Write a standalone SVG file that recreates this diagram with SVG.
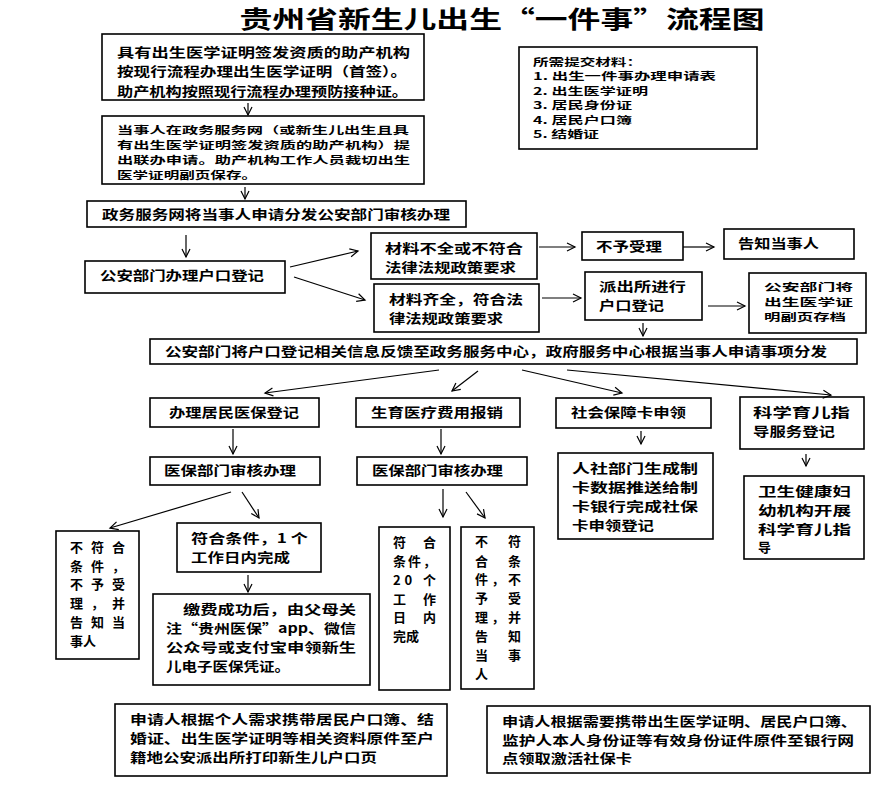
<svg xmlns="http://www.w3.org/2000/svg" width="889" height="789" viewBox="0 0 889 789">
<style>
.b{fill:#fff;stroke:#000;stroke-width:1.6}
.t{font-family:"Noto Sans CJK SC","Liberation Sans",sans-serif;font-size:13px;font-weight:bold;fill:#000}
.m{font-size:10px}
.c line{stroke:#000;stroke-width:1.2;marker-end:url(#a)}
</style>
<defs><marker id="a" markerUnits="userSpaceOnUse" markerWidth="12" markerHeight="12" refX="9" refY="5" orient="auto"><path d="M1,1 L9,5 L1,9" fill="none" stroke="#000" stroke-width="1.2"/></marker></defs>
<rect width="889" height="789" fill="#fff"/>
<text x="502" y="28" text-anchor="middle" font-family="Noto Sans CJK SC, sans-serif" font-size="24" font-weight="bold" textLength="525" lengthAdjust="spacingAndGlyphs">贵州省新生儿出生“一件事”流程图</text>

<g id="n1"><rect class="b" x="102" y="34" width="322" height="66"/>
<text class="t" x="117" y="57" textLength="293" lengthAdjust="spacingAndGlyphs">具有出生医学证明签发资质的助产机构</text>
<text class="t" x="117" y="76" textLength="290" lengthAdjust="spacingAndGlyphs">按现行流程办理出生医学证明（首签）。</text>
<text class="t" x="117" y="96" textLength="291" lengthAdjust="spacingAndGlyphs">助产机构按照现行流程办理预防接种证。</text></g>

<g id="n2"><rect class="b" x="102" y="116" width="322" height="68"/>
<text class="t m" x="117" y="134" textLength="292" lengthAdjust="spacingAndGlyphs">当事人在政务服务网（或新生儿出生且具</text>
<text class="t m" x="117" y="149" textLength="293" lengthAdjust="spacingAndGlyphs">有出生医学证明签发资质的助产机构）提</text>
<text class="t m" x="117" y="164" textLength="293" lengthAdjust="spacingAndGlyphs">出联办申请。助产机构工作人员裁切出生</text>
<text class="t m" x="117" y="179" textLength="140" lengthAdjust="spacingAndGlyphs">医学证明副页保存。</text></g>

<g id="n3"><rect class="b" x="87" y="201" width="379" height="26"/>
<text class="t" x="102" y="219" textLength="348" lengthAdjust="spacingAndGlyphs">政务服务网将当事人申请分发公安部门审核办理</text></g>

<g id="n4"><rect class="b" x="85" y="261" width="200" height="32"/>
<text class="t" x="100" y="280" textLength="164" lengthAdjust="spacingAndGlyphs">公安部门办理户口登记</text></g>

<g id="n5"><rect class="b" x="371" y="233" width="166" height="46"/>
<text class="t" x="385" y="253" textLength="138" lengthAdjust="spacingAndGlyphs">材料不全或不符合</text>
<text class="t" x="385" y="272" textLength="131" lengthAdjust="spacingAndGlyphs">法律法规政策要求</text></g>

<g id="n6"><rect class="b" x="374" y="284" width="165" height="48"/>
<text class="t" x="389" y="304" textLength="134" lengthAdjust="spacingAndGlyphs">材料齐全，符合法</text>
<text class="t" x="389" y="323" textLength="114" lengthAdjust="spacingAndGlyphs">律法规政策要求</text></g>

<g id="n7"><rect class="b" x="582" y="232" width="101" height="28"/>
<text class="t" x="596" y="251" textLength="66" lengthAdjust="spacingAndGlyphs">不予受理</text></g>

<g id="n8"><rect class="b" x="724" y="229" width="130" height="30"/>
<text class="t" x="738" y="248" textLength="81" lengthAdjust="spacingAndGlyphs">告知当事人</text></g>

<g id="n9"><rect class="b" x="585" y="272" width="117" height="48"/>
<text class="t" x="599" y="291" textLength="87" lengthAdjust="spacingAndGlyphs">派出所进行</text>
<text class="t" x="599" y="310" textLength="65" lengthAdjust="spacingAndGlyphs">户口登记</text></g>

<g id="n10"><rect class="b" x="749" y="273" width="117" height="60"/>
<text class="t m" x="764" y="291" textLength="89" lengthAdjust="spacingAndGlyphs">公安部门将</text>
<text class="t m" x="764" y="306" textLength="89" lengthAdjust="spacingAndGlyphs">出生医学证</text>
<text class="t m" x="764" y="321" textLength="82" lengthAdjust="spacingAndGlyphs">明副页存档</text></g>

<g id="n11"><rect class="b" x="519" y="47" width="238" height="102"/>
<text class="t m" x="533" y="66" textLength="109" lengthAdjust="spacingAndGlyphs">所需提交材料：</text>
<text class="t m" x="533" y="80" textLength="183" lengthAdjust="spacingAndGlyphs">1. 出生一件事办理申请表</text>
<text class="t m" x="533" y="95" textLength="115" lengthAdjust="spacingAndGlyphs">2. 出生医学证明</text>
<text class="t m" x="533" y="109" textLength="99" lengthAdjust="spacingAndGlyphs">3. 居民身份证</text>
<text class="t m" x="533" y="124" textLength="99" lengthAdjust="spacingAndGlyphs">4. 居民户口簿</text>
<text class="t m" x="533" y="138" textLength="66" lengthAdjust="spacingAndGlyphs">5. 结婚证</text></g>

<g id="n12"><rect class="b" x="150" y="339" width="707" height="25"/>
<text class="t" x="165" y="356" textLength="662" lengthAdjust="spacingAndGlyphs">公安部门将户口登记相关信息反馈至政务服务中心，政府服务中心根据当事人申请事项分发</text></g>

<g id="n13"><rect class="b" x="150" y="398" width="169" height="29"/>
<text class="t" x="169" y="417" textLength="130" lengthAdjust="spacingAndGlyphs">办理居民医保登记</text></g>
<g id="n14"><rect class="b" x="356" y="398" width="164" height="29"/>
<text class="t" x="371" y="417" textLength="132" lengthAdjust="spacingAndGlyphs">生育医疗费用报销</text></g>
<g id="n15"><rect class="b" x="556" y="398" width="155" height="30"/>
<text class="t" x="571" y="417" textLength="115" lengthAdjust="spacingAndGlyphs">社会保障卡申领</text></g>
<g id="n16"><rect class="b" x="740" y="397" width="124" height="52"/>
<text class="t" x="753" y="417" textLength="97" lengthAdjust="spacingAndGlyphs">科学育儿指</text>
<text class="t" x="753" y="436" textLength="82" lengthAdjust="spacingAndGlyphs">导服务登记</text></g>

<g id="n17"><rect class="b" x="150" y="457" width="170" height="28"/>
<text class="t" x="164" y="475" textLength="132" lengthAdjust="spacingAndGlyphs">医保部门审核办理</text></g>
<g id="n18"><rect class="b" x="357" y="457" width="170" height="28"/>
<text class="t" x="372" y="475" textLength="131" lengthAdjust="spacingAndGlyphs">医保部门审核办理</text></g>

<g id="n19"><rect class="b" x="558" y="453" width="155" height="86"/>
<text class="t" x="572" y="473" textLength="126" lengthAdjust="spacingAndGlyphs">人社部门生成制</text>
<text class="t" x="572" y="492" textLength="126" lengthAdjust="spacingAndGlyphs">卡数据推送给制</text>
<text class="t" x="572" y="511" textLength="126" lengthAdjust="spacingAndGlyphs">卡银行完成社保</text>
<text class="t" x="572" y="530" textLength="82" lengthAdjust="spacingAndGlyphs">卡申领登记</text></g>

<g id="n20"><rect class="b" x="744" y="476" width="120" height="83"/>
<text class="t" x="758" y="496" textLength="93" lengthAdjust="spacingAndGlyphs">卫生健康妇</text>
<text class="t" x="758" y="515" textLength="93" lengthAdjust="spacingAndGlyphs">幼机构开展</text>
<text class="t" x="758" y="534" textLength="93" lengthAdjust="spacingAndGlyphs">科学育儿指</text>
<text class="t" x="758" y="552">导</text></g>

<g id="n21"><rect class="b" x="56" y="531" width="83" height="128"/>
<text class="t" x="70" y="552" textLength="55" lengthAdjust="spacing">不符合</text>
<text class="t" x="70" y="571" textLength="55" lengthAdjust="spacing">条件，</text>
<text class="t" x="70" y="589" textLength="55" lengthAdjust="spacing">不予受</text>
<text class="t" x="70" y="608" textLength="55" lengthAdjust="spacing">理，并</text>
<text class="t" x="70" y="627" textLength="55" lengthAdjust="spacing">告知当</text>
<text class="t" x="70" y="646">事人</text></g>

<g id="n22"><rect class="b" x="177" y="523" width="144" height="49"/>
<text class="t" x="191" y="543" textLength="117" lengthAdjust="spacingAndGlyphs">符合条件，1 个</text>
<text class="t" x="191" y="562" textLength="99" lengthAdjust="spacingAndGlyphs">工作日内完成</text></g>

<g id="n23"><rect class="b" x="153" y="594" width="217" height="91"/>
<text class="t" x="183" y="614" textLength="173" lengthAdjust="spacingAndGlyphs">缴费成功后，由父母关</text>
<text class="t" x="166" y="633" textLength="190" lengthAdjust="spacingAndGlyphs">注“贵州医保”app、微信</text>
<text class="t" x="166" y="652" textLength="190" lengthAdjust="spacingAndGlyphs">公众号或支付宝申领新生</text>
<text class="t" x="166" y="671" textLength="124" lengthAdjust="spacingAndGlyphs">儿电子医保凭证。</text></g>

<g id="n24"><rect class="b" x="379" y="527" width="71" height="163"/>
<text class="t" x="393" y="547" textLength="43" lengthAdjust="spacing">符合</text>
<text class="t" x="393" y="566" textLength="43" lengthAdjust="spacing">条件，</text>
<text class="t" x="393" y="585" textLength="43" lengthAdjust="spacing">20 个</text>
<text class="t" x="393" y="604" textLength="43" lengthAdjust="spacing">工作</text>
<text class="t" x="393" y="622" textLength="43" lengthAdjust="spacing">日内</text>
<text class="t" x="393" y="641">完成</text></g>

<g id="n25"><rect class="b" x="461" y="527" width="73" height="162"/>
<text class="t" x="475" y="546" textLength="46" lengthAdjust="spacing">不符</text>
<text class="t" x="475" y="566" textLength="46" lengthAdjust="spacing">合条</text>
<text class="t" x="475" y="584" textLength="46" lengthAdjust="spacing">件，不</text>
<text class="t" x="475" y="603" textLength="46" lengthAdjust="spacing">予受</text>
<text class="t" x="475" y="622" textLength="46" lengthAdjust="spacing">理，并</text>
<text class="t" x="475" y="641" textLength="46" lengthAdjust="spacing">告知</text>
<text class="t" x="475" y="660" textLength="46" lengthAdjust="spacing">当事</text>
<text class="t" x="475" y="679">人</text></g>

<g id="n26"><rect class="b" x="115" y="704" width="332" height="72"/>
<text class="t" x="130" y="724" textLength="304" lengthAdjust="spacingAndGlyphs">申请人根据个人需求携带居民户口簿、结</text>
<text class="t" x="130" y="743" textLength="304" lengthAdjust="spacingAndGlyphs">婚证、出生医学证明等相关资料原件至户</text>
<text class="t" x="130" y="762" textLength="247" lengthAdjust="spacingAndGlyphs">籍地公安派出所打印新生儿户口页</text></g>

<g id="n27"><rect class="b" x="487" y="706" width="383" height="67"/>
<text class="t" x="502" y="726" textLength="355" lengthAdjust="spacingAndGlyphs">申请人根据需要携带出生医学证明、居民户口簿、</text>
<text class="t" x="502" y="745" textLength="352" lengthAdjust="spacingAndGlyphs">监护人本人身份证等有效身份证件原件至银行网</text>
<text class="t" x="502" y="763" textLength="130" lengthAdjust="spacingAndGlyphs">点领取激活社保卡</text></g>

<g id="connectors" class="c">
<line x1="248" y1="103" x2="248" y2="115"/>
<line x1="245" y1="187" x2="245" y2="199"/>
<line x1="186" y1="235" x2="186" y2="257"/>
<line x1="290" y1="267" x2="358" y2="251"/>
<line x1="294" y1="277" x2="365" y2="300"/>
<line x1="539" y1="247" x2="575" y2="247"/>
<line x1="683" y1="247" x2="714" y2="247"/>
<line x1="542" y1="298" x2="581" y2="298"/>
<line x1="708" y1="306" x2="745" y2="306"/>
<line x1="643" y1="323" x2="643" y2="336"/>
<line x1="439" y1="370" x2="265" y2="393"/>
<line x1="478" y1="371" x2="452" y2="391"/>
<line x1="522" y1="370" x2="622" y2="393"/>
<line x1="567" y1="370" x2="831" y2="395"/>
<line x1="233" y1="429" x2="233" y2="454"/>
<line x1="441" y1="429" x2="441" y2="454"/>
<line x1="641" y1="431" x2="641" y2="444"/>
<line x1="806" y1="454" x2="806" y2="466"/>
<line x1="231" y1="492" x2="110" y2="528"/>
<line x1="242" y1="492" x2="259" y2="518"/>
<line x1="443" y1="489" x2="443" y2="517"/>
<line x1="466" y1="492" x2="485" y2="518"/>
<line x1="248" y1="575" x2="248" y2="592"/>
</g>
</svg>
